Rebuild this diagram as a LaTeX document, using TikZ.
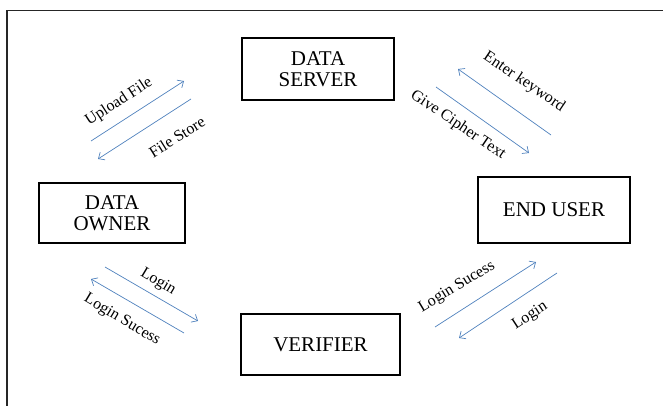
\documentclass[tikz,border=0pt]{standalone}
\usepackage{fontspec}
\setmainfont{Liberation Serif}
\usetikzlibrary{arrows.meta}
\definecolor{flowblue}{RGB}{79,129,189}

\begin{document}
\begin{tikzpicture}[x=1pt,y=-1pt,
    entity/.style={draw,line width=2pt,align=center,font=\fontsize{21}{21}\selectfont,inner sep=0pt},
    flow/.style={flowblue,line width=0.7pt,-{Straight Barb[length=5pt,width=9pt]}},
    lbl/.style={font=\fontsize{16}{18}\selectfont,inner sep=0pt}]
        \useasboundingbox (0,0) rectangle (663,406);
        % Kader (alleen links en boven zichtbaar)
        \draw[line width=1.3pt,black!85] (7,406) -- (7,10.5) -- (663,10.5);
        % Blokken
        \node[entity,minimum width=152,minimum height=62] (server) at (318,69) {DATA\\SERVER};
        \node[entity,minimum width=146,minimum height=60] (owner) at (112,213) {DATA\\OWNER};
        \node[entity,minimum width=152,minimum height=66] (user) at (554,210) {END USER};
        \node[entity,minimum width=159,minimum height=61] (verifier) at (320.5,344.5) {VERIFIER};
        % Eindpunten van de pijlen
        \coordinate (upA) at (91,141);   \coordinate (upB) at (184,81);
        \coordinate (stA) at (191,99);   \coordinate (stB) at (98,159);
        \coordinate (kwA) at (551,135);  \coordinate (kwB) at (458,69);
        \coordinate (ctA) at (436,87);   \coordinate (ctB) at (529,153);
        \coordinate (liA) at (105,267);  \coordinate (liB) at (198,321);
        \coordinate (lsA) at (184,333);  \coordinate (lsB) at (91,279);
        \coordinate (rsA) at (435,327);  \coordinate (rsB) at (536,262);
        \coordinate (rlA) at (557,273);  \coordinate (rlB) at (459,338);
        % Pijlen
        \draw[flow] (upA) -- (upB);
        \draw[flow] (stA) -- (stB);
        \draw[flow] (kwA) -- (kwB);
        \draw[flow] (ctA) -- (ctB);
        \draw[flow] (liA) -- (liB);
        \draw[flow] (lsA) -- (lsB);
        \draw[flow] (rsA) -- (rsB);
        \draw[flow] (rlA) -- (rlB);
        % Labels
        \node[lbl,rotate=33] (upload) at (119,102) {Upload File};
        \node[lbl,rotate=32] (store) at (177,137) {File Store};
        \node[lbl,rotate=-34] (keyword) at (524,82) {Enter keyword};
        \node[lbl,rotate=-34] (cipher) at (458,125) {Give Cipher Text};
        \node[lbl,rotate=-31] (loginL) at (158,282) {Login};
        \node[lbl,rotate=-31] (succL) at (122,320) {Login Sucess};
        \node[lbl,rotate=31] (succR) at (457,287) {Login Sucess};
        \node[lbl,rotate=33] (loginR) at (530,316) {Login};
    \end{tikzpicture}
\end{document}
